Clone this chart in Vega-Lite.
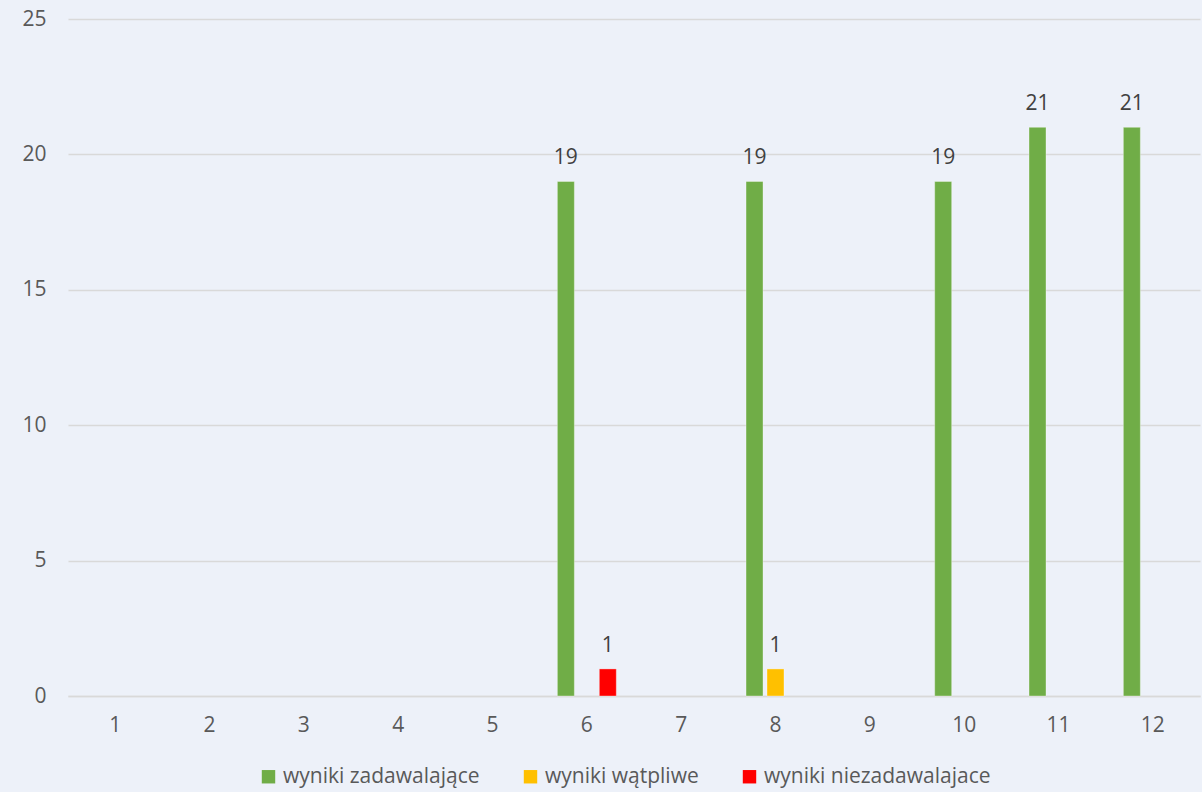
{
  "$schema": "https://vega.github.io/schema/vega-lite/v6.json",
  "autosize": {"type": "none"},
  "padding": {"left": 68, "top": 19, "right": 2, "bottom": 96},
  "width": 1132,
  "height": 677,
  "background": "#EDF1F9",
  "config": {
    "view": {"stroke": null},
    "font": "Open Sans",
    "axis": {"labelFont": "Open Sans", "labelFontSize": 21, "labelColor": "#595959"},
    "legend": {"labelFont": "Open Sans", "labelFontSize": 21, "labelColor": "#595959", "labelLimit": 500}
  },
  "data": {
    "values": [
      {"month": "6", "series": "wyniki zadawalające", "value": 19},
      {"month": "6", "series": "wyniki niezadawalajace", "value": 1},
      {"month": "8", "series": "wyniki zadawalające", "value": 19},
      {"month": "8", "series": "wyniki wątpliwe", "value": 1},
      {"month": "10", "series": "wyniki zadawalające", "value": 19},
      {"month": "11", "series": "wyniki zadawalające", "value": 21},
      {"month": "12", "series": "wyniki zadawalające", "value": 21}
    ]
  },
  "encoding": {
    "x": {
      "field": "month",
      "type": "nominal",
      "scale": {"domain": ["1","2","3","4","5","6","7","8","9","10","11","12"], "paddingInner": 0.333, "paddingOuter": 0.1667},
      "axis": {"title": null, "labelAngle": 0, "ticks": false, "domainColor": "#D9D9D9", "domainWidth": 1.5, "labelPadding": 18, "grid": false}
    },
    "xOffset": {
      "field": "series",
      "type": "nominal",
      "scale": {"domain": ["wyniki zadawalające", "wyniki wątpliwe", "wyniki niezadawalajace"], "paddingInner": 0.19, "paddingOuter": 0.095}
    },
    "y": {
      "field": "value",
      "type": "quantitative",
      "scale": {"domain": [0, 25], "nice": false},
      "axis": {"title": null, "values": [0,5,10,15,20,25], "ticks": false, "domain": false, "gridColor": "#D9D9D9", "gridWidth": 1.5, "labelPadding": 22}
    }
  },
  "layer": [
    {
      "mark": {"type": "bar", "stroke": "#FFFFFF", "strokeOpacity": 0.35, "strokeWidth": 1},
      "encoding": {
        "color": {
          "field": "series",
          "type": "nominal",
          "scale": {"domain": ["wyniki zadawalające", "wyniki wątpliwe", "wyniki niezadawalajace"], "range": ["#70AD47", "#FFC000", "#FF0000"]},
          "legend": {"title": null, "orient": "none", "direction": "horizontal", "legendX": 190, "legendY": 747, "symbolType": "square", "symbolSize": 180, "symbolStrokeWidth": 0, "symbolOpacity": 1, "columnPadding": 40, "labelOffset": 4}
        }
      }
    },
    {
      "mark": {"type": "text", "baseline": "alphabetic", "dy": -17, "fontSize": 21, "color": "#404040", "font": "Open Sans"},
      "encoding": {"text": {"field": "value", "type": "quantitative"}}
    }
  ]
}
